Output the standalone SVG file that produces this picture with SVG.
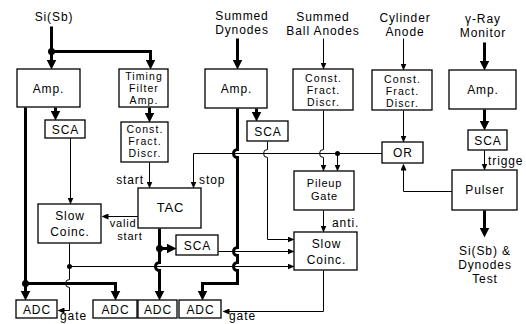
<svg xmlns="http://www.w3.org/2000/svg" width="526" height="324" viewBox="0 0 526 324">
<style>
.b{fill:#fff;stroke:#000;stroke-width:1.3}
text{font-family:"Liberation Sans",Arial,sans-serif;font-size:12px;letter-spacing:0.9px;fill:#000;text-anchor:middle}
.s{font-size:10.5px;letter-spacing:1.1px}
.m{font-size:11px;letter-spacing:0.8px}
.l{text-anchor:start}
.e{text-anchor:end}
.thk{fill:none;stroke:#000;stroke-width:3}
.thn{fill:none;stroke:#000;stroke-width:1}
.ta{marker-end:url(#ak)}
.na{marker-end:url(#an)}
.dot{fill:#000}
</style>
<defs>
<marker id="ak" viewBox="0 0 10 10" markerWidth="10" markerHeight="10" refX="3" refY="5" orient="auto" markerUnits="userSpaceOnUse"><path d="M0,0 L10,5 L0,10 z"/></marker>
<marker id="an" viewBox="0 0 7 6" markerWidth="7" markerHeight="6" refX="2" refY="3" orient="auto" markerUnits="userSpaceOnUse"><path d="M0,0 L7,3 L0,6 z"/></marker>
</defs>
<rect width="526" height="324" fill="#fff"/>
<g id="labels">
<text x="54" y="21">Si(Sb)</text>
<text x="242" y="20">Summed</text><text x="242" y="34">Dynodes</text>
<text x="323" y="21">Summed</text><text x="323" y="35">Ball Anodes</text>
<text x="405" y="22">Cylinder</text><text x="405" y="36">Anode</text>
<text x="483" y="23">γ-Ray</text><text x="483" y="37">Monitor</text>
<text x="485" y="255">Si(Sb) &amp;</text><text x="485" y="269">Dynodes</text><text x="485" y="283">Test</text>
<text x="144" y="184" class="e">start</text>
<text x="199" y="184" class="l">stop</text>
<text x="123" y="227" class="m">valid</text><text x="130" y="240" class="m">start</text>
<text x="332" y="227" class="l">anti.</text>
<text x="488" y="165" class="l">trigge</text>
<text x="60" y="320" class="l">gate</text>
<text x="229" y="320" class="l">gate</text>
</g>
<g id="connectors" transform="translate(0.5,0.5)">
<path class="thk" d="M51,26 V51"/>
<path class="thk ta" d="M51,51 V62"/>
<path class="thk ta" d="M51,51 H150 V62"/>
<path class="thk ta" d="M55,107 V113"/>
<path class="thk ta" d="M149,107 V115"/>
<path class="thk" d="M25,107 V283"/>
<path class="thk ta" d="M25,283 V293"/>
<path class="thk ta" d="M25,283 H115 V293"/>
<path class="thk" d="M159,228 V248"/>
<path class="thk ta" d="M159,248 H169"/>
<path class="thk ta" d="M159,248 V262 a4,4 0 0 0 0,8 V293"/>
<path class="thk ta" d="M237,38 V62"/>
<path class="thk ta" d="M256,108 V114"/>
<path class="thk ta" d="M237,108 V149 a4,4 0 0 0 0,8 V247 a4,4 0 0 0 0,8 V262 a4,4 0 0 0 0,8 V283 H202 V293"/>
<path class="thk ta" d="M484,42 V63"/>
<path class="thk ta" d="M484,109 V123"/>
<path class="thk ta" d="M484,210 V230"/>
<path class="thn na" d="M70,137 V199"/>
<path class="thn na" d="M149,162 V183"/>
<path class="thn na" d="M138,216 H106"/>
<path class="thn na" d="M69,243 V279 a4,4 0 0 0 0,8 V310 H62"/>
<path class="thn na" d="M69,266 H289"/>
<path class="thn na" d="M382,153 H193 V183"/>
<path class="thn na" d="M267,141 V149 a4,4 0 0 0 0,8 V239 H289"/>
<path class="thn na" d="M323,38 V64"/>
<path class="thn na" d="M323,110 V149 a4,4 0 0 0 0,8 V166"/>
<path class="thn na" d="M337,153 V166"/>
<path class="thn na" d="M403,38 V65"/>
<path class="thn na" d="M403,110 V137"/>
<path class="thn na" d="M452,191 H403 V168"/>
<path class="thn na" d="M484,150 V165"/>
<path class="thn na" d="M323,210 V227"/>
<path class="thn na" d="M218,251 H289"/>
<path class="thn na" d="M323,270 V311 H227"/>
<circle class="dot" cx="51" cy="51" r="3.5"/>
<circle class="dot" cx="25" cy="283" r="3.5"/>
<circle class="dot" cx="159" cy="248" r="3.5"/>
<circle class="dot" cx="69" cy="266" r="2.5"/>
<circle class="dot" cx="337" cy="153" r="2.5"/>
</g>
<g id="si-amp"><rect class="b" x="17" y="69" width="63" height="38"/><text x="48.5" y="93">Amp.</text></g>
<g id="tfa"><rect class="b" x="119" y="69" width="49" height="38"/><text class="s" x="144" y="80">Timing</text><text class="s" x="144" y="92">Filter</text><text class="s" x="144" y="104">Amp.</text></g>
<g id="si-sca"><rect class="b" x="45" y="120" width="40" height="18"/><text x="65.5" y="134">SCA</text></g>
<g id="si-cfd"><rect class="b" x="121" y="122" width="47" height="40"/><text class="s" x="145" y="133">Const.</text><text class="s" x="145" y="145">Fract.</text><text class="s" x="145" y="157">Discr.</text></g>
<g id="dyn-amp"><rect class="b" x="205" y="69" width="62" height="39"/><text x="236.5" y="93">Amp.</text></g>
<g id="dyn-sca"><rect class="b" x="247" y="121" width="41" height="20"/><text x="268" y="136">SCA</text></g>
<g id="ball-cfd"><rect class="b" x="293" y="69" width="60" height="41"/><text class="s" x="323.5" y="82">Const.</text><text class="s" x="323.5" y="94">Fract.</text><text class="s" x="323.5" y="106">Discr.</text></g>
<g id="cyl-cfd"><rect class="b" x="372" y="70" width="60" height="40"/><text class="s" x="402.5" y="83">Const.</text><text class="s" x="402.5" y="95">Fract.</text><text class="s" x="402.5" y="107">Discr.</text></g>
<g id="or"><rect class="b" x="382" y="142" width="41" height="21"/><text x="403" y="157">OR</text></g>
<g id="g-amp"><rect class="b" x="449" y="70" width="67" height="39"/><text x="483" y="94">Amp.</text></g>
<g id="g-sca"><rect class="b" x="468" y="130" width="39" height="20"/><text x="488" y="145">SCA</text></g>
<g id="pulser"><rect class="b" x="452" y="170" width="65" height="40"/><text x="485" y="194">Pulser</text></g>
<g id="tac"><rect class="b" x="138" y="188" width="63" height="40"/><text x="170.5" y="212" style="font-size:13px">TAC</text></g>
<g id="slow-l"><rect class="b" x="38" y="204" width="63" height="39"/><text x="70" y="220">Slow</text><text x="70" y="236">Coinc.</text></g>
<g id="tac-sca"><rect class="b" x="176" y="235" width="42" height="20"/><text x="197.5" y="250">SCA</text></g>
<g id="pileup"><rect class="b" x="294" y="171" width="60" height="39"/><text class="m" x="324.5" y="187">Pileup</text><text class="m" x="324.5" y="200">Gate</text></g>
<g id="slow-r"><rect class="b" x="294" y="232" width="63" height="38"/><text x="326.5" y="248">Slow</text><text x="326.5" y="264">Coinc.</text></g>
<g id="adc1"><rect class="b" x="16" y="300" width="41" height="18"/><text x="37" y="314">ADC</text></g>
<g id="adc2"><rect class="b" x="93" y="300" width="44" height="18"/><text x="115.5" y="314">ADC</text></g>
<g id="adc3"><rect class="b" x="138" y="300" width="39" height="18"/><text x="158" y="314">ADC</text></g>
<g id="adc4"><rect class="b" x="179" y="300" width="42" height="18"/><text x="200.5" y="314">ADC</text></g>
</svg>
